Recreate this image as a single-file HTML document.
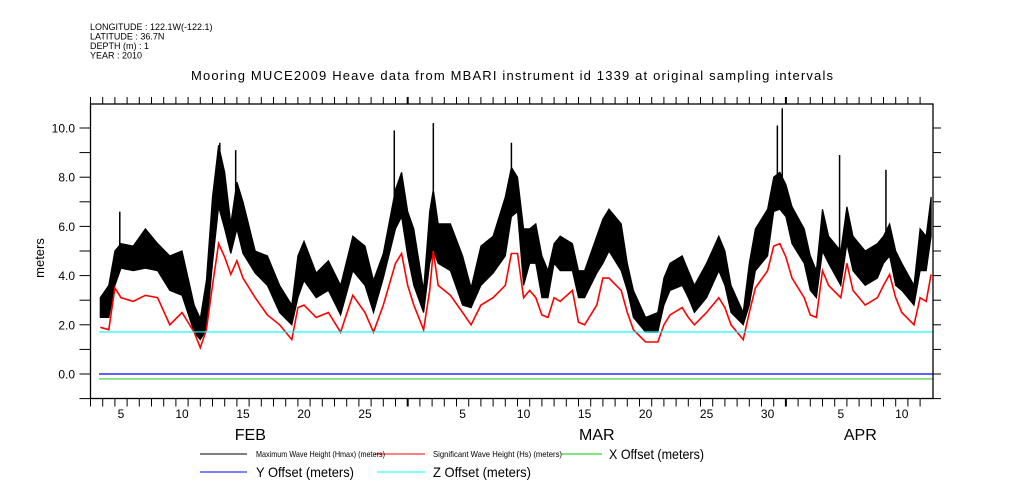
<!DOCTYPE html>
<html><head><meta charset="utf-8"><style>
html,body{margin:0;padding:0;background:#fff;}
svg{display:block;font-family:"Liberation Sans",sans-serif;}
</style></head><body>
<svg id="chart" width="1009" height="504" viewBox="0 0 1009 504" xmlns="http://www.w3.org/2000/svg">
<g font-size="9" fill="#000">
<text x="90" y="30">LONGITUDE : 122.1W(-122.1)</text>
<text x="90" y="39.5">LATITUDE : 36.7N</text>
<text x="90" y="49">DEPTH (m) : 1</text>
<text x="90" y="58.5">YEAR : 2010</text>
</g>
<text x="512" y="80" text-anchor="middle" font-size="13" textLength="642">Mooring MUCE2009 Heave data from MBARI instrument id 1339 at original sampling intervals</text>
<text transform="translate(44,258) rotate(-90)" text-anchor="middle" font-size="13">meters</text>
<g id="plot"></g>
<g id="axes"></g>
<g>
<line x1="200" y1="454" x2="247" y2="454" stroke="#000"/>
<line x1="375" y1="454" x2="425" y2="454" stroke="#f00"/>
<line x1="561" y1="454" x2="602" y2="454" stroke="#0c0"/>
<text x="256" y="457" font-size="8.5" textLength="129" lengthAdjust="spacingAndGlyphs">Maximum Wave Height (Hmax) (meters)</text>
<text x="433" y="457" font-size="8.5" textLength="129" lengthAdjust="spacingAndGlyphs">Significant Wave Height (Hs) (meters)</text>
<text x="609" y="459" font-size="14" textLength="95" lengthAdjust="spacingAndGlyphs">X Offset (meters)</text>
<line x1="200" y1="472" x2="247" y2="472" stroke="#00f"/>
<text x="256" y="477" font-size="14" textLength="98" lengthAdjust="spacingAndGlyphs">Y Offset (meters)</text>
<line x1="377" y1="472" x2="425" y2="472" stroke="#0ff"/>
<text x="433" y="477" font-size="14" textLength="98" lengthAdjust="spacingAndGlyphs">Z Offset (meters)</text>
</g>
</svg>
<script>
// day index from Feb 1 (0 = Feb 1, noon-centered)
const days   = [2.3,3,3.5,4,5,6,7,8,9,10,10.5,11,11.5,12,12.5,13,13.5,14,15,16,17,18,18.5,19,20,21,22,23,24,24.7,25.5,26.5,27,27.5,28,28.8,29.3,29.6,30,31,32,32.7,33.5,34.5,35.5,36,36.5,37,37.5,38,38.5,39,39.5,40,41,41.5,42,43,43.5,44,45,45.5,46,47,48,48.5,49,50,50.5,51,52,53,53.5,54,55,55.5,56,57,57.5,58,58.5,59,60,60.5,61,61.5,62,63,63.5,64,65,66,66.5,67,67.5,68,69,69.5,70,70.4];
const hmaxHi = [3.1,3.6,5.0,5.3,5.2,5.9,5.3,4.8,5.0,2.8,2.25,3.8,7.2,9.3,8.2,6.1,7.8,7.0,5.0,4.8,3.6,2.8,4.8,5.4,4.1,4.6,3.6,5.6,5.2,3.8,4.9,7.5,8.2,6.6,5.9,3.4,6.6,7.5,6.1,6.1,4.8,3.5,5.2,5.6,7.2,8.4,8.0,5.9,5.9,6.1,4.8,4.2,5.3,5.6,5.3,4.2,4.2,5.6,6.3,6.7,6.1,4.5,3.4,2.3,2.5,3.9,4.5,4.8,4.2,3.6,4.5,5.6,5.0,3.6,2.5,4.5,5.9,6.7,8.0,8.2,7.7,6.8,5.9,4.8,4.2,6.7,5.6,5.0,6.8,5.6,5.0,5.3,5.6,6.1,5.0,4.5,3.6,5.9,5.6,7.2];
const hmaxLo = [2.3,2.3,3.6,4.3,4.2,4.3,4.2,3.4,3.2,1.7,1.4,1.8,4.5,6.8,5.9,4.9,5.9,4.9,4.1,3.6,2.5,2.0,3.1,3.8,3.1,3.4,2.4,4.2,3.6,2.5,3.9,5.9,6.4,4.8,3.6,2.5,4.5,5.0,4.5,4.2,2.8,2.7,3.6,4.1,4.8,6.4,6.6,3.6,4.5,4.5,3.1,3.1,4.5,4.2,4.2,3.1,3.1,4.1,4.5,5.0,4.2,3.4,2.3,1.7,1.7,2.8,3.4,3.6,3.1,2.5,3.1,4.2,3.6,2.5,2.0,2.8,4.2,4.8,6.6,6.7,6.4,5.3,4.5,3.4,3.1,5.0,4.5,3.6,5.3,4.2,3.6,3.9,4.5,4.8,3.6,3.4,2.8,4.2,4.2,5.6];
const hs     = [1.9,1.8,3.5,3.1,2.95,3.2,3.1,2.0,2.5,1.7,1.07,1.8,3.6,5.3,4.75,4.05,4.6,3.9,3.1,2.4,2.0,1.4,2.7,2.8,2.3,2.5,1.7,3.2,2.5,1.7,2.8,4.5,4.9,3.6,2.8,1.8,3.4,5.0,3.6,3.2,2.5,2.0,2.8,3.1,3.6,4.9,4.9,3.1,3.4,3.1,2.4,2.3,3.1,2.95,3.4,2.1,2.0,2.8,3.9,3.9,3.4,2.5,1.8,1.3,1.3,2.0,2.4,2.7,2.3,2.0,2.5,3.1,2.7,2.0,1.4,2.5,3.5,4.2,5.2,5.3,4.75,3.9,3.1,2.4,2.3,4.2,3.6,3.1,4.5,3.4,2.8,3.1,3.6,4.05,3.1,2.5,2.0,3.1,2.95,4.05];
const spikeDays = [3.9,12.1,13.4,26.4,29.6,36.0,57.8,58.2,62.9,66.7];
const spikeVals = [6.6,9.4,9.1,9.9,10.2,9.4,10.1,10.8,8.9,8.3];
const zOffset = 1.71, yOffset = 0.0, xOffset = -0.2;
const yTicks = [0,2,4,6,8,10];
const yTickLabels = ["0.0","2.0","4.0","6.0","8.0","10.0"];
const dayLabels = ["5","10","15","20","25","5","10","15","20","25","30","5","10"];
const dayLabelIdx = [4,9,14,19,24,32,37,42,47,52,57,63,68];
const monthLabels = ["FEB","MAR","APR"];
const monthLabelIdx = [14.6,43,64.6];

const L=90.5,R=933,T=104,B=398.5;
const xs = d => 72.2 + 12.2*d;
const ys = v => 374 - 24.6*v;
const NS="http://www.w3.org/2000/svg";
const plot=document.getElementById('plot'), axes=document.getElementById('axes');
function mk(tag, attrs, parent){const e=document.createElementNS(NS,tag);for(const k in attrs)e.setAttribute(k,attrs[k]);parent.appendChild(e);return e;}

// Hmax band
let pts=days.map((d,i)=>xs(d).toFixed(1)+','+ys(hmaxHi[i]).toFixed(1));
for(let i=days.length-1;i>=0;i--)pts.push(xs(days[i]).toFixed(1)+','+ys(hmaxLo[i]).toFixed(1));
const band=mk('polygon',{points:pts.join(' '),fill:'#000',stroke:'#000','stroke-width':1.2},plot);


spikeDays.forEach((d,i)=>{
  let j=0;while(j<days.length-1&&days[j+1]<d)j++;
  const t=(d-days[j])/(days[j+1]-days[j]);
  const base=hmaxHi[j]+(hmaxHi[j+1]-hmaxHi[j])*t;
  const s=mk('line',{x1:xs(d),x2:xs(d),y1:ys(base),y2:ys(spikeVals[i]),stroke:'#000','stroke-width':1.5},plot);
  
  
});
const hsl=mk('polyline',{points:days.map((d,i)=>xs(d).toFixed(1)+','+ys(hs[i]).toFixed(1)).join(' '),fill:'none',stroke:'#f00','stroke-width':1.6},plot);


[[zOffset,'#0ff','z-offset-line',1.2],[yOffset,'#00f','y-offset-line',1.2],[xOffset,'#0b0','x-offset-line',0.8]].forEach(o=>{
  const l=mk('line',{x1:99,x2:R,y1:ys(o[0]),y2:ys(o[0]),stroke:o[1],'stroke-width':o[3]},plot);
  
  
});

// frame
const fr=mk('rect',{x:L,y:T,width:R-L,height:B-T,fill:'none',stroke:'#000','stroke-width':1.3},axes);


for(let k=2;k<=70;k++){
  const x=66.1+12.2*k; if(x>R+0.5)break;
  const big=(k===28||k===59);
  const t1=mk('line',{x1:x,x2:x,y1:B,y2:B+8,stroke:'#000','stroke-width':big?2:1},axes);
  
  
  const t2=mk('line',{x1:x,x2:x,y1:T,y2:T-7,stroke:'#000','stroke-width':big?2:1},axes);
  
  
}
dayLabels.forEach((s,i)=>{
  const t=mk('text',{x:xs(dayLabelIdx[i]),y:418,'text-anchor':'middle','font-size':12},axes);
  t.textContent=s;
  
  
});
monthLabels.forEach((s,i)=>{
  const t=mk('text',{x:xs(monthLabelIdx[i]),y:440,'text-anchor':'middle','font-size':16},axes);
  t.textContent=s;
  
  
});
for(let v=-1;v<=11;v++){
  const y=ys(v); if(y<T-0.5)break;
  const a=mk('line',{x1:L-11,x2:L,y1:y,y2:y,stroke:'#000'},axes);
  
  
  const b=mk('line',{x1:R,x2:R+8,y1:y,y2:y,stroke:'#000'},axes);
  
  
}
yTicks.forEach((v,i)=>{
  const t=mk('text',{x:75,y:ys(v)+4.5,'text-anchor':'end','font-size':12},axes);
  t.textContent=yTickLabels[i];
  
  
});
</script>
</body></html>
